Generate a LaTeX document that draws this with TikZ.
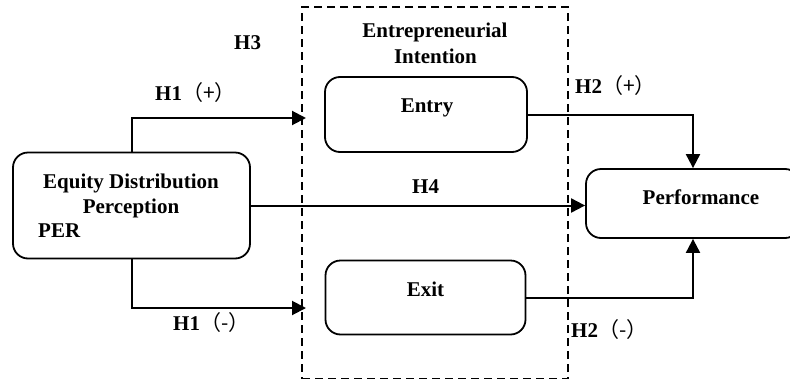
\documentclass[tikz,border=0pt]{standalone}
\usepackage{fontspec}
\setmainfont{Liberation Serif}
\newfontfamily\cjk{Noto Sans CJK SC}
\usetikzlibrary{arrows.meta}
\begin{document}
\begin{tikzpicture}[x=1pt,y=-1pt,
  box/.style={draw, line width=1.8pt, rounded corners=15pt, inner sep=0pt},
  txt/.style={font=\fontsize{21}{25}\selectfont\bfseries, inner sep=0pt, anchor=base},
  lbl/.style={font=\fontsize{21}{25}\selectfont\bfseries, inner sep=0pt, anchor=base west},
  conn/.style={line width=2pt, -{Triangle[length=14pt,width=14pt]}}]
\clip (0,0) rectangle (790,378);
\fill[white] (0,0) rectangle (790,378);
% dashed group
\node[draw, dashed, line width=1.6pt, dash pattern=on 8pt off 5pt, minimum width=266pt, minimum height=372pt, inner sep=0pt] (grp) at (435,193) {};
% boxes
\node[box, minimum width=237pt, minimum height=106pt] (per) at (131.5,205.5) {};
\node[box, minimum width=202pt, minimum height=75pt] (entry) at (426,114.5) {};
\node[box, minimum width=200pt, minimum height=74pt] (exit) at (425.5,297.5) {};
\node[box, minimum width=214pt, minimum height=69pt] (perf) at (693,203.5) {};
% texts
\node[txt] (t1) at (131,188) {Equity Distribution};
\node[txt] (t2) at (131,213) {Perception};
\node[txt, anchor=base west] (t3) at (38,237) {PER};
\node[txt] (t4) at (435,37) {Entrepreneurial};
\node[txt] (t5) at (435.5,63) {Intention};
\node[txt] (t6) at (427,112) {Entry};
\node[txt] (t7) at (425.5,296) {Exit};
\node[txt] (t8) at (701,204) {Performance};
% labels
\node[lbl] (l3) at (234,49) {H3};
\node[lbl] (l1p) at (155,100) {H1{\cjk\mdseries（+）}};
\node[lbl] (l1m) at (173,330) {H1{\cjk\mdseries（-）}};
\node[lbl] (l4) at (412,193) {H4};
\node[lbl] (l2p) at (575,93) {H2{\cjk\mdseries（+）}};
\node[lbl] (l2m) at (571,337) {H2{\cjk\mdseries（-）}};
% connectors
\coordinate (h1p) at (306,118);
\coordinate (h1m) at (306,308);
\draw[conn] (per.north) |- (h1p);
\draw[conn] (per.south) |- (h1m);
\draw[conn] (per.east) -- (per.east -| perf.west);
\draw[conn] (entry.east) -| (perf.north);
\draw[conn] (exit.east) -| (perf.south);
\end{tikzpicture}
\end{document}
